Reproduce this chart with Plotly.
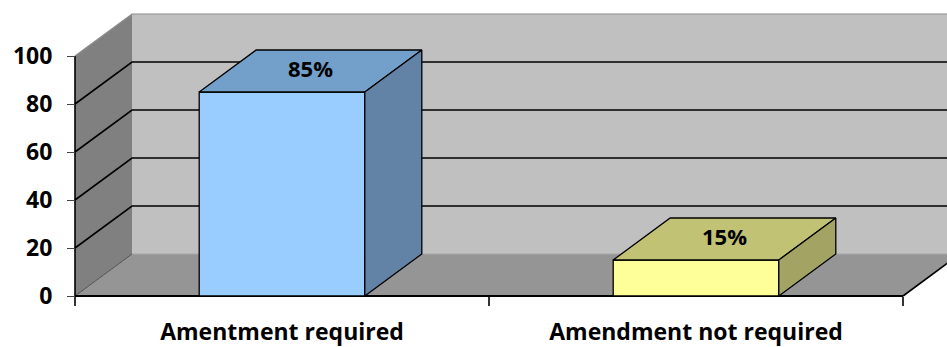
import plotly.graph_objects as go

# ---- data ----
categories = ["Amentment required", "Amendment not required"]
values = [85, 15]
value_labels = ["85%", "15%"]
front_colors = ["#99CCFF", "#FFFF99"]
top_colors = ["#739FCB", "#C2C274"]
side_colors = ["#6282A6", "#A3A363"]
y_ticks = [0, 20, 40, 60, 80, 100]

# ---- 3-D frame geometry (data units) ----
W, H = 947, 347
PX_X = 414.0          # pixels per category
PX_Y = 2.4            # pixels per value unit
X0_PX, Y0_PX = 75, 296  # pixel position of the front-left-bottom corner
L, R, T, B = 66, W, 10, 304  # plot area in pixels
DX = 57 / PX_X        # depth offset along x
DY = 42 / PX_Y        # depth offset along y
BAR_HALF = 0.2
N = len(categories)
YMAX = max(y_ticks)

x_range = [-(X0_PX - L) / PX_X, (R - X0_PX) / PX_X]
y_range = [-(B - Y0_PX) / PX_Y, (Y0_PX - T) / PX_Y]
XFAR = x_range[1] + 0.2

fig = go.Figure()


def poly(xs, ys, fill, line_color=None, width=1.0):
    fig.add_trace(go.Scatter(
        x=list(xs) + [xs[0]], y=list(ys) + [ys[0]],
        mode="lines", fill="toself", fillcolor=fill,
        line=dict(color=line_color or fill, width=width if line_color else 0),
        hoverinfo="skip", showlegend=False))


def seg(xs, ys, color, width):
    fig.add_trace(go.Scatter(
        x=xs, y=ys, mode="lines", line=dict(color=color, width=width),
        hoverinfo="skip", showlegend=False))


# walls and floor
poly([DX, XFAR, XFAR, DX], [DY, DY, YMAX + DY, YMAX + DY], "#C0C0C0")
poly([0, DX, DX, 0], [0, DY, YMAX + DY, YMAX], "#808080")
poly([0, N, N + DX, DX], [0, 0, DY, DY], "#959595")
seg([DX, XFAR], [DY, DY], "#A8A8A8", 1)

# gridlines across side and back walls
for v in y_ticks[1:-1]:
    seg([0, DX, XFAR], [v, v + DY, v + DY], "#000000", 1.6)
seg([0, DX, XFAR], [YMAX, YMAX + DY, YMAX + DY], "#8C8C8C", 1.2)

# frame edges
seg([0, DX], [0, DY], "#505050", 1)
seg([0, 0], [0, YMAX], "#000000", 1.6)
seg([N, N + DX], [0, DY], "#000000", 1.6)
seg([0, N], [0, 0], "#000000", 2.2)

# 3-D columns
for i, v in enumerate(values):
    x1, x2 = i + 0.5 - BAR_HALF, i + 0.5 + BAR_HALF
    poly([x1, x2, x2, x1], [0, 0, v, v], front_colors[i], "#000000", 1.3)
    poly([x1, x2, x2 + DX, x1 + DX], [v, v, v + DY, v + DY], top_colors[i], "#000000", 1.3)
    poly([x2, x2 + DX, x2 + DX, x2], [0, DY, v + DY, v], side_colors[i], "#000000", 1.3)

# value labels on the top faces
fig.add_trace(go.Scatter(
    x=[i + 0.5 + DX / 2 for i in range(N)],
    y=[v + DY / 2 for v in values],
    xaxis="x2",
    mode="text", text=value_labels, textposition="middle center",
    textfont=dict(family="Open Sans", size=22, color="#000000", weight="bold"),
    hoverinfo="skip", showlegend=False))

bold = dict(family="Open Sans", size=23, color="#000000", weight="bold")
fig.update_layout(
    width=W, height=H,
    margin=dict(l=L, r=W - R, t=T, b=H - B),
    paper_bgcolor="white", plot_bgcolor="white",
    xaxis=dict(range=x_range, tickvals=list(range(N + 1)), ticks="outside",
               ticklen=9, tickwidth=1.6, tickcolor="#333333",
               showticklabels=False, showgrid=False, zeroline=False,
               showline=False, anchor="free",
               position=(B - Y0_PX) / (B - T)),
    xaxis2=dict(range=x_range, overlaying="x", side="bottom",
                tickvals=[i + 0.5 for i in range(N)], ticktext=categories,
                ticks="", tickfont=bold, ticklabelstandoff=20,
                showgrid=False, zeroline=False, showline=False,
                anchor="free", position=(B - Y0_PX) / (B - T)),
    yaxis=dict(range=y_range, tickvals=y_ticks, ticks="outside", ticklen=8,
               tickwidth=1.4, tickcolor="#444444", tickfont=bold,
               ticklabelstandoff=10,
               showgrid=False, zeroline=False, showline=False,
               anchor="free", position=(X0_PX - L) / (R - L)),
)

fig.write_html("out.html")
